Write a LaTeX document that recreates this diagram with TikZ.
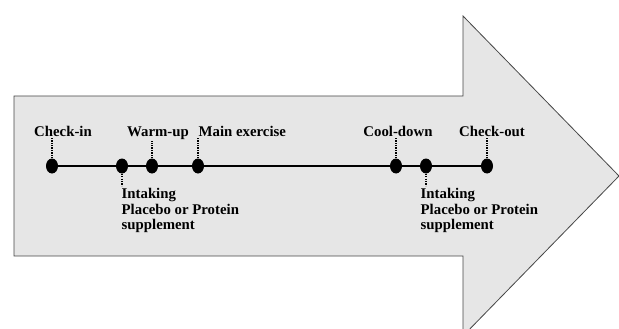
\documentclass[tikz,border=0pt]{standalone}
\usepackage{fontspec}
\setmainfont{Liberation Serif}
\usepackage{tikz}
\usetikzlibrary{shapes.geometric}
\tikzset{
  dot/.style={ellipse,fill=black,minimum width=12pt,minimum height=15pt,inner sep=0pt},
  lbl/.style={font=\fontsize{14.8}{15.5}\selectfont\bfseries,inner sep=1.5pt},
  tick/.style={line width=1.3pt,dash pattern=on 1.3pt off 1.1pt}
}
\begin{document}
\begin{tikzpicture}[x=1pt,y=-1pt]
\useasboundingbox (0,0) rectangle (619,329);
\clip (0,0) rectangle (619,329);
\draw[fill={rgb,255:red,230;green,230;blue,230},draw={rgb,255:red,70;green,70;blue,70},line width=0.8pt]
  (14,96) -- (463,96) -- (463,16) -- (619,176) -- (463,336) -- (463,256) -- (14,256) -- cycle;
% points on the time line
\node[dot] (checkin) at (52,166) {};
\node[dot] (intakeA) at (122,166) {};
\node[dot] (warmup) at (152,166) {};
\node[dot] (mainex) at (198,166) {};
\node[dot] (cooldown) at (396,166) {};
\node[dot] (intakeB) at (426,166) {};
\node[dot] (checkout) at (487,166) {};
\draw[line width=2.6pt] (checkin) -- (checkout);
% labels above
\node[lbl,anchor=base] (checkinlbl) at (63,136) {Check-in};
\node[lbl,anchor=base] (warmuplbl) at (158,136) {Warm-up};
\node[lbl,anchor=base west] (mainexlbl) at (197,136) {Main exercise};
\node[lbl,anchor=base] (cooldownlbl) at (398,136) {Cool-down};
\node[lbl,anchor=base] (checkoutlbl) at (492,136) {Check-out};
\draw[tick] (checkin.north) -- (checkin |- checkinlbl.south);
\draw[tick] (warmup.north) -- (warmup |- warmuplbl.south);
\draw[tick] (mainex.north) -- (mainex |- mainexlbl.south);
\draw[tick] (cooldown.north) -- (cooldown |- cooldownlbl.south);
\draw[tick] (checkout.north) -- (checkout |- checkoutlbl.south);
% labels below
\node[lbl,anchor=north west,align=left] (intakeAlbl) at (120,187) {Intaking\\Placebo or Protein\\supplement};
\node[lbl,anchor=north west,align=left] (intakeBlbl) at (419,187) {Intaking\\Placebo or Protein\\supplement};
\draw[tick] (intakeA.south) -- ++(0,12);
\draw[tick] (intakeB.south) -- ++(0,12);
\end{tikzpicture}
\end{document}
